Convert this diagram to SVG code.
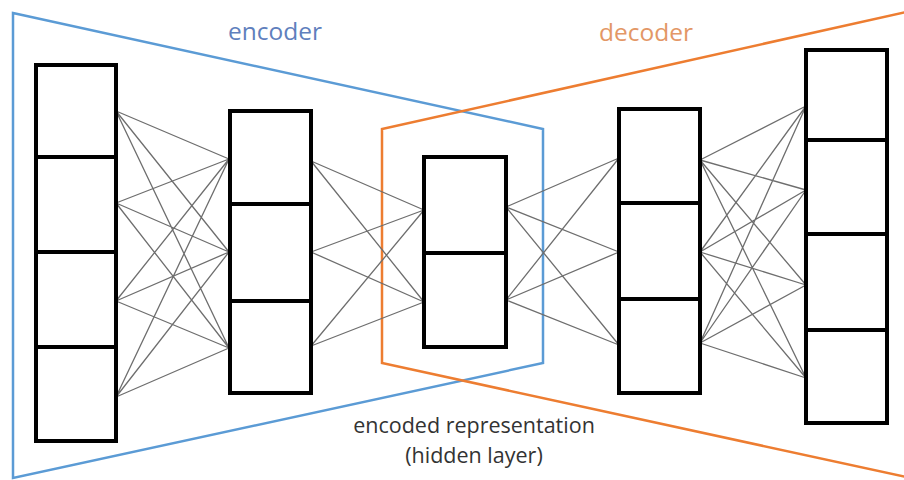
<svg xmlns="http://www.w3.org/2000/svg" width="904" height="480" viewBox="0 0 904 480">
<style>
.cell{fill:#fff;stroke:#000;stroke-width:4}
.link{stroke:#6e6e6e;stroke-width:1.3;fill:none}
.enc{fill:none;stroke:#5b9bd5;stroke-width:2.5}
.dec{fill:none;stroke:#ed7d31;stroke-width:2.5}
.lbl{font-family:"Open Sans","Liberation Sans",sans-serif}
</style>
<rect width="904" height="480" fill="#fff"/>
<g id="encoder-frame">
<polygon class="enc" points="13,13 543,129 543,363 13,478"/>
<text class="lbl" x="275" y="40" font-size="24.5" fill="#5f7fbd" text-anchor="middle">encoder</text>
</g>
<g id="decoder-frame">
<polyline class="dec" points="906,12 382,129 382,363 906,477"/>
<text class="lbl" x="646" y="41" font-size="24.5" fill="#e39766" text-anchor="middle">decoder</text>
</g>
<g id="connectors">
<path class="link" d="M116,111L229,159M116,111L229,252M116,111L229,348M116,203L229,159M116,203L229,252M116,203L229,348M116,301L229,159M116,301L229,252M116,301L229,348M116,397L229,159M116,397L229,252M116,397L229,348"/>
<path class="link" d="M311,161L424,210M311,161L424,302M311,252L424,210M311,252L424,302M311,346L424,210M311,346L424,302"/>
<path class="link" d="M506,207L619,158M506,207L619,252M506,207L619,345M506,300L619,158M506,300L619,252M506,300L619,345"/>
<path class="link" d="M700,160L806,106M700,160L806,190M700,160L806,285M700,160L806,378M700,252L806,106M700,252L806,190M700,252L806,285M700,252L806,378M700,343L806,106M700,343L806,190M700,343L806,285M700,343L806,378"/>
</g>
<g id="input-layer">
<rect class="cell" x="36" y="65" width="80" height="92"/>
<rect class="cell" x="36" y="157" width="80" height="95"/>
<rect class="cell" x="36" y="252" width="80" height="95"/>
<rect class="cell" x="36" y="347" width="80" height="94"/>
</g>
<g id="encoder-layer">
<rect class="cell" x="230" y="111" width="81" height="93"/>
<rect class="cell" x="230" y="204" width="81" height="97"/>
<rect class="cell" x="230" y="301" width="81" height="92"/>
</g>
<g id="hidden-layer">
<rect class="cell" x="424" y="157" width="82" height="96"/>
<rect class="cell" x="424" y="253" width="82" height="94"/>
</g>
<g id="decoder-layer">
<rect class="cell" x="619" y="109" width="81" height="94"/>
<rect class="cell" x="619" y="203" width="81" height="96"/>
<rect class="cell" x="619" y="299" width="81" height="94"/>
</g>
<g id="output-layer">
<rect class="cell" x="806" y="50" width="81" height="90"/>
<rect class="cell" x="806" y="140" width="81" height="94"/>
<rect class="cell" x="806" y="234" width="81" height="96"/>
<rect class="cell" x="806" y="330" width="81" height="93"/>
</g>
<g id="hidden-label" class="lbl" font-size="21.5" fill="#333" text-anchor="middle">
<text x="474" y="433">encoded representation</text>
<text x="474" y="463">(hidden layer)</text>
</g>
</svg>
